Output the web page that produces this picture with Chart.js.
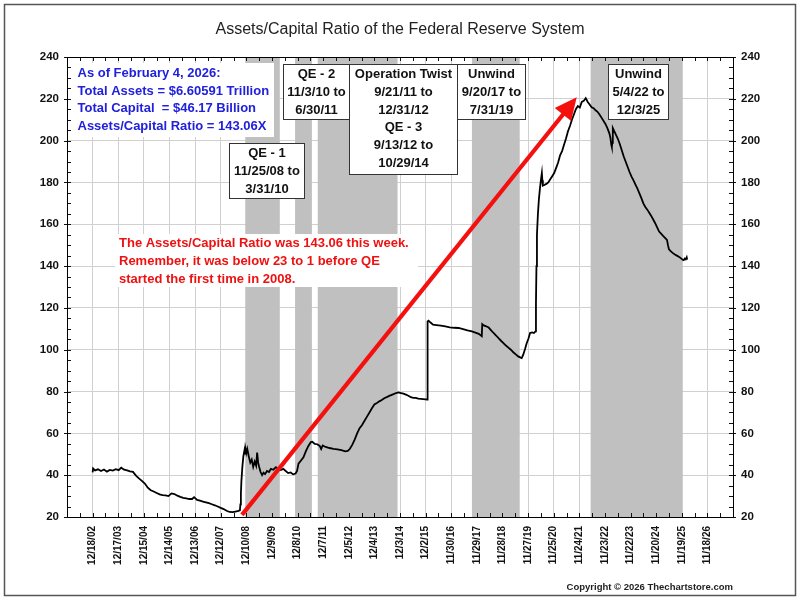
<!DOCTYPE html>
<html>
<head>
<meta charset="utf-8">
<title>Assets/Capital Ratio of the Federal Reserve System</title>
<script src="https://cdn.jsdelivr.net/npm/chart.js@4.4.1/dist/chart.umd.min.js"></script>
<style>
  html, body { margin: 0; padding: 0; background: #fff; }
  #wrap { width: 800px; height: 600px; }
</style>
</head>
<body>
<div id="wrap"><canvas id="chart" width="800" height="600"></canvas></div>
<script>
// --- Data ---
const tickLabels = ['12/18/02', '12/17/03', '12/15/04', '12/14/05', '12/13/06', '12/12/07', '12/10/08',
  '12/9/09', '12/8/10', '12/7/11', '12/5/12', '12/4/13', '12/3/14', '12/2/15', '11/30/16', '11/29/17',
  '11/28/18', '11/27/19', '11/25/20', '11/24/21', '11/23/22', '11/22/23', '11/20/24', '11/19/25', '11/18/26'];

const ratioDates = [
  '12/18/02', '12/25/02', '1/22/03', '3/5/03', '4/16/03', '5/28/03', '7/9/03', '8/20/03', '10/1/03', '11/12/03',
  '12/24/03', '1/28/04', '3/10/04', '4/21/04', '6/2/04', '7/14/04', '8/25/04', '10/6/04', '11/17/04', '12/29/04',
  '2/9/05', '3/23/05', '5/4/05', '6/15/05', '7/27/05', '9/7/05', '10/19/05', '11/30/05', '1/11/06', '2/22/06',
  '4/5/06', '5/17/06', '6/28/06', '8/9/06', '9/20/06', '11/1/06', '11/29/06', '1/10/07', '2/21/07', '4/4/07',
  '5/16/07', '6/27/07', '8/8/07', '9/19/07', '10/31/07', '12/12/07', '1/23/08', '3/5/08', '4/16/08', '5/28/08',
  '7/9/08', '8/20/08', '9/10/08', '9/17/08', '9/24/08', '10/1/08', '10/15/08', '10/29/08', '11/12/08', '11/19/08',
  '11/26/08', '12/10/08', '12/24/08', '1/14/09', '2/4/09', '2/25/09', '3/18/09', '4/8/09', '4/29/09', '5/13/09',
  '5/27/09', '6/10/09', '7/1/09', '7/22/09', '8/12/09', '9/2/09', '9/30/09', '10/28/09', '11/25/09', '12/30/09',
  '2/3/10', '3/10/10', '4/14/10', '5/19/10', '6/23/10', '7/28/10', '9/1/10', '10/6/10', '11/10/10', '12/1/10',
  '12/22/10', '1/26/11', '3/2/11', '4/6/11', '5/11/11', '6/15/11', '7/6/11', '8/10/11', '9/14/11', '10/19/11',
  '11/9/11', '11/30/11', '1/11/12', '3/7/12', '5/2/12', '6/27/12', '8/22/12', '10/17/12', '11/21/12', '12/19/12',
  '1/23/13', '2/27/13', '4/3/13', '5/8/13', '6/12/13', '7/17/13', '8/21/13', '9/25/13', '10/30/13', '12/4/13',
  '1/8/14', '2/12/14', '3/19/14', '4/23/14', '5/28/14', '6/25/14', '7/30/14', '9/3/14', '10/8/14', '11/12/14',
  '12/17/14', '1/21/15', '2/25/15', '4/1/15', '5/6/15', '6/10/15', '7/15/15', '8/19/15', '9/23/15', '10/28/15',
  '12/2/15', '12/23/15', '12/30/15', '1/13/16', '2/10/16', '3/16/16', '5/4/16', '7/6/16', '9/7/16', '11/9/16',
  '1/11/17', '3/15/17', '5/17/17', '7/19/17', '9/20/17', '11/8/17', '12/27/17', '2/7/18', '2/14/18', '3/7/18',
  '4/11/18', '5/16/18', '6/20/18', '7/25/18', '8/29/18', '10/3/18', '11/7/18', '12/12/18', '1/16/19', '2/20/19',
  '3/27/19', '5/1/19', '6/5/19', '7/10/19', '8/14/19', '8/28/19', '9/18/19', '10/16/19', '11/6/19', '12/4/19',
  '12/25/19', '1/22/20', '2/19/20', '3/11/20', '3/18/20', '3/25/20', '4/1/20', '4/15/20', '4/29/20', '5/13/20',
  '5/27/20', '6/10/20', '6/17/20', '6/24/20', '7/15/20', '8/12/20', '9/9/20', '10/7/20', '11/4/20', '12/2/20',
  '12/30/20', '1/27/21', '2/24/21', '3/24/21', '4/21/21', '5/19/21', '6/16/21', '7/14/21', '8/11/21', '9/8/21',
  '10/6/21', '11/3/21', '12/1/21', '12/29/21', '1/26/22', '2/23/22', '3/9/22', '3/23/22', '4/20/22', '5/18/22',
  '6/15/22', '7/13/22', '8/10/22', '9/7/22', '10/5/22', '11/2/22', '11/30/22', '12/28/22', '1/25/23', '2/8/23',
  '2/22/23', '3/1/23', '3/8/23', '3/15/23', '3/29/23', '4/26/23', '5/24/23', '6/21/23', '7/19/23', '8/16/23',
  '9/13/23', '10/11/23', '11/8/23', '12/6/23', '1/3/24', '1/31/24', '2/28/24', '3/27/24', '4/24/24', '5/22/24',
  '6/19/24', '7/17/24', '8/14/24', '9/11/24', '10/9/24', '11/6/24', '12/4/24', '1/1/25', '1/29/25', '2/26/25',
  '3/26/25', '4/23/25', '5/7/25', '5/21/25', '6/18/25', '7/16/25', '8/13/25', '9/10/25', '10/8/25', '11/5/25',
  '12/3/25', '12/17/25', '12/31/25', '1/14/26', '1/28/26', '2/4/26'];

const ratioValues = [
  41.3, 43.2, 42.3, 42.8, 42.0, 42.7, 41.7, 42.5, 42.2, 42.9,
  42.4, 43.6, 42.6, 42.3, 41.8, 41.6, 39.8, 38.5, 37.3, 36.0,
  34.0, 32.8, 32.2, 31.5, 30.8, 30.5, 30.3, 30.0, 31.3, 31.0,
  30.2, 29.6, 29.2, 28.9, 28.6, 28.6, 29.5, 28.2, 27.8, 27.4,
  27.0, 26.6, 26.1, 25.6, 25.0, 24.4, 23.8, 23.0, 22.4, 22.3,
  22.6, 22.9, 23.2, 26.0, 31.0, 37.0, 44.0, 49.0, 51.5, 50.0,
  53.0, 50.5, 52.5, 49.0, 46.0, 47.5, 44.0, 46.5, 44.5, 50.8,
  46.0, 44.0, 41.5, 40.0, 41.2, 40.5, 42.0, 41.5, 43.0, 42.6,
  43.8, 43.0, 42.5, 43.0, 42.0, 41.0, 41.3, 40.4, 40.8, 42.0,
  45.5, 47.0, 48.5, 51.5, 54.0, 55.8, 56.0, 55.0, 54.8, 54.0,
  52.5, 54.2, 53.5, 53.0, 52.6, 52.3, 52.0, 51.4, 51.6, 52.5,
  54.5, 57.0, 60.0, 62.5, 64.0, 66.0, 68.0, 70.0, 72.0, 73.8,
  74.5, 75.3, 76.0, 76.8, 77.3, 77.8, 78.3, 78.8, 79.3, 79.6,
  79.3, 79.0, 78.5, 78.0, 77.3, 77.0, 77.0, 76.6, 76.5, 76.4,
  76.3, 76.2, 113.5, 113.9, 113.0, 112.0, 111.8, 111.5, 111.2, 110.7,
  110.5, 110.4, 109.8, 109.2, 108.8, 108.2, 107.6, 106.5, 112.2, 111.6,
  111.2, 110.6, 109.3, 108.0, 106.8, 105.5, 104.3, 103.2, 102.0, 101.0,
  100.0, 98.8, 97.8, 96.8, 96.2, 96.0, 97.5, 100.5, 103.0, 105.5,
  108.0, 108.3, 108.0, 108.8, 122.0, 140.0, 155.0, 165.0, 172.0, 177.0,
  181.0, 184.5, 181.0, 178.5, 178.8, 179.3, 180.0, 181.5, 183.0, 184.5,
  187.0, 189.5, 193.0, 195.0, 198.0, 201.0, 204.5, 207.0, 210.0, 212.5,
  215.0, 216.5, 215.8, 218.5, 219.0, 220.3, 219.5, 218.5, 217.3, 216.0,
  215.5, 214.5, 213.8, 212.5, 211.0, 209.5, 208.0, 206.0, 203.5, 201.5,
  198.0, 197.0, 199.0, 206.0, 205.0, 203.0, 201.0, 198.5, 195.5, 192.5,
  190.0, 187.5, 185.0, 182.8, 181.0, 179.0, 177.0, 174.8, 172.5, 170.0,
  168.3, 167.0, 165.5, 164.0, 162.3, 160.5, 158.5, 156.5, 155.5, 154.5,
  153.5, 152.5, 150.0, 148.0, 147.0, 146.2, 145.5, 145.0, 144.5, 143.8,
  143.0, 142.8, 143.6, 143.2, 144.2, 143.1];

// QE / unwind periods (shaded)
const shadeStart = ['11/25/08', '11/3/10', '9/21/11', '9/20/17', '5/4/22'];
const shadeEnd = ['3/31/10', '6/30/11', '10/29/14', '7/31/19', '12/3/25'];

// red arrow: from / to (date, ratio)
const arrowFrom = ['10/9/08', 21.0];
const arrowTo = ['10/18/21', 220.7];

// --- Helpers ---
const FONT = 'Arial, "Liberation Sans", Helvetica, sans-serif';
Chart.defaults.font.family = FONT;

function toDay(s) {
  const [m, d, y] = s.split('/').map(Number);
  return Date.UTC(2000 + y, m - 1, d) / 86400000;
}
const tickDays = tickLabels.map(toDay);
const xMin = tickDays[0] - 364;
const xMax = tickDays[tickDays.length - 1] + 364;
const points = ratioDates.map((d, i) => ({ x: toDay(d), y: ratioValues[i] }));

// annotation boxes (page layout)
const boxes = [
  { x: 229, y: 143, w: 75, h: 55, lines: ['QE - 1', '11/25/08 to', '3/31/10'] },
  { x: 283, y: 64, w: 66, h: 55, lines: ['QE - 2', '11/3/10 to', '6/30/11'] },
  { x: 349, y: 64, w: 108, h: 110, lines: ['Operation Twist', '9/21/11 to', '12/31/12', 'QE - 3', '9/13/12 to', '10/29/14'] },
  { x: 457, y: 64, w: 68, h: 55, lines: ['Unwind', '9/20/17 to', '7/31/19'] },
  { x: 608, y: 64, w: 60, h: 55, lines: ['Unwind', '5/4/22 to', '12/3/25'] },
];
const blueLines = ['As of February 4, 2026:', 'Total Assets = $6.60591 Trillion',
  'Total Capital  = $46.17 Billion', 'Assets/Capital Ratio = 143.06X'];
const redLines = ['The Assets/Capital Ratio was 143.06 this week.',
  'Remember, it was below 23 to 1 before QE', 'started the first time in 2008.'];

// --- Overlay plugin: shading, arrow, notes, frame ---
const overlay = {
  id: 'overlay',
  beforeDatasetsDraw(chart) {
    const { ctx, chartArea: a, scales } = chart;
    ctx.save();
    ctx.fillStyle = '#c0c0c0';
    shadeStart.forEach((s, i) => {
      const x1 = scales.x.getPixelForValue(toDay(s));
      const x2 = scales.x.getPixelForValue(toDay(shadeEnd[i]));
      ctx.fillRect(x1, a.top, x2 - x1, a.bottom - a.top);
    });
    ctx.restore();
  },
  afterDatasetsDraw(chart) {
    const { ctx, chartArea: a, scales } = chart;
    ctx.save();
    // arrow
    const x0 = scales.x.getPixelForValue(toDay(arrowFrom[0])), y0 = scales.y.getPixelForValue(arrowFrom[1]);
    const x1 = scales.x.getPixelForValue(toDay(arrowTo[0])), y1 = scales.y.getPixelForValue(arrowTo[1]);
    const ang = Math.atan2(y1 - y0, x1 - x0);
    const headLen = 22, headW = 10.5;
    const bx = x1 - Math.cos(ang) * headLen, by = y1 - Math.sin(ang) * headLen;
    ctx.save();
    ctx.beginPath();
    ctx.rect(a.left, a.top, a.right - a.left, a.bottom - a.top);
    ctx.clip();
    ctx.strokeStyle = '#f51010';
    ctx.lineWidth = 4.2;
    ctx.beginPath();
    ctx.moveTo(x0, y0);
    ctx.lineTo(bx + Math.cos(ang) * 2, by + Math.sin(ang) * 2);
    ctx.stroke();
    ctx.fillStyle = '#f51010';
    ctx.beginPath();
    ctx.moveTo(x1, y1);
    ctx.lineTo(bx + Math.sin(ang) * headW, by - Math.cos(ang) * headW);
    ctx.lineTo(bx - Math.sin(ang) * headW, by + Math.cos(ang) * headW);
    ctx.closePath();
    ctx.fill();
    ctx.restore();

    // blue note
    ctx.fillStyle = '#fff';
    ctx.fillRect(a.left + 1, 63, 206, 74);
    ctx.font = 'bold 13px ' + FONT;
    ctx.textBaseline = 'middle';
    ctx.textAlign = 'left';
    ctx.fillStyle = '#2020dd';
    blueLines.forEach((t, i) => ctx.fillText(t, 77.5, 73.5 + i * 17.5));

    // red note
    ctx.fillStyle = '#fff';
    ctx.fillRect(115, 234, 303, 53);
    ctx.fillStyle = '#ee1111';
    redLines.forEach((t, i) => ctx.fillText(t, 119, 243.5 + i * 18));

    // period boxes
    ctx.textAlign = 'center';
    boxes.forEach(b => {
      ctx.fillStyle = '#fff';
      ctx.fillRect(b.x, b.y, b.w, b.h);
      ctx.strokeStyle = '#333';
      ctx.lineWidth = 1;
      ctx.strokeRect(b.x + 0.5, b.y + 0.5, b.w, b.h);
      ctx.fillStyle = '#111';
      b.lines.forEach((t, i) => ctx.fillText(t, b.x + b.w / 2 + 0.5, b.y + 10.5 + i * 17.8));
    });
    ctx.restore();
  },
  afterDraw(chart) {
    const { ctx, chartArea: a, scales } = chart;
    ctx.save();
    // minor / major ticks
    ctx.strokeStyle = '#111';
    ctx.lineWidth = 1;
    ctx.beginPath();
    for (let d = xMin; d <= xMax + 1; d += 182) {
      const x = Math.round(scales.x.getPixelForValue(d)) + 0.5;
      ctx.moveTo(x, a.bottom); ctx.lineTo(x, a.bottom - 4);
      ctx.moveTo(x, a.top); ctx.lineTo(x, a.top + 4);
    }
    for (let v = 20; v <= 240; v += 5) {
      const y = Math.round(scales.y.getPixelForValue(v)) + 0.5;
      const major = v % 20 === 0;
      ctx.moveTo(a.left - (major ? 3 : 0), y); ctx.lineTo(a.left + 4, y);
      ctx.moveTo(a.right - 4, y); ctx.lineTo(a.right + (major ? 3 : 0), y);
    }
    ctx.stroke();
    // plot frame
    ctx.strokeStyle = '#000';
    ctx.strokeRect(Math.round(a.left) + 0.5, Math.round(a.top) + 0.5,
      Math.round(a.right - a.left), Math.round(a.bottom - a.top));
    // outer frame
    ctx.strokeStyle = '#555';
    ctx.lineWidth = 1.5;
    ctx.strokeRect(4.5, 4.5, 791, 591);
    // title
    ctx.fillStyle = '#222';
    ctx.font = '16px ' + FONT;
    ctx.textAlign = 'center';
    ctx.textBaseline = 'middle';
    ctx.fillText('Assets/Capital Ratio of the Federal Reserve System', 400, 30);
    // copyright
    ctx.font = 'bold 9.5px ' + FONT;
    ctx.textAlign = 'right';
    ctx.fillText('Copyright \u00a9 2026 Thechartstore.com', 733, 587);
    ctx.restore();
  }
};

// --- Chart ---
const tickFont = { size: 11.5, weight: 'bold' };
new Chart(document.getElementById('chart'), {
  type: 'line',
  data: {
    datasets: [{
      data: points,
      borderColor: '#000',
      borderWidth: 1.8,
      pointRadius: 0,
      tension: 0,
      fill: false
    }]
  },
  options: {
    responsive: false,
    animation: false,
    devicePixelRatio: 1,
    layout: { padding: { top: 57, left: 0, right: 0, bottom: 0 } },
    plugins: { legend: { display: false }, tooltip: { enabled: false } },
    scales: {
      x: {
        type: 'linear',
        min: xMin,
        max: xMax,
        afterBuildTicks: s => { s.ticks = tickDays.map(v => ({ value: v })); },
        afterFit: s => { s.height = 83; },
        grid: { color: '#d0d0d0', drawTicks: false },
        border: { display: false },
        ticks: {
          autoSkip: false, minRotation: 90, maxRotation: 90, padding: 9,
          color: '#111', font: { size: 10, weight: 'bold' },
          callback: (v, i) => tickLabels[i]
        }
      },
      y: {
        position: 'left', min: 20, max: 240,
        afterFit: s => { s.width = 67; },
        grid: { color: '#d0d0d0', drawTicks: false },
        border: { display: false },
        ticks: { stepSize: 20, padding: 8, color: '#111', font: tickFont }
      },
      y2: {
        position: 'right', min: 20, max: 240,
        afterFit: s => { s.width = 67; },
        grid: { display: false, drawTicks: false },
        border: { display: false },
        ticks: { stepSize: 20, padding: 8, color: '#111', font: tickFont }
      }
    }
  },
  plugins: [overlay]
});
</script>
</body>
</html>
